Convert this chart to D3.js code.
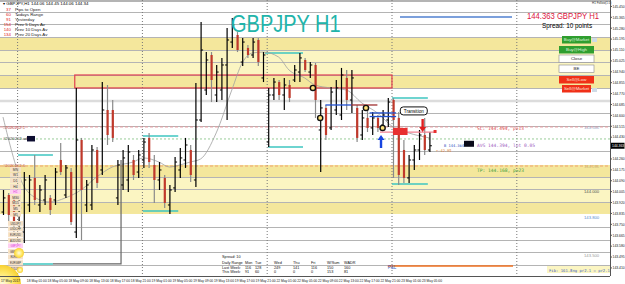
<!DOCTYPE html>
<html>
<head>
<meta charset="utf-8">
<script src="https://cdn.jsdelivr.net/npm/d3@7/dist/d3.min.js"></script>
<style>
  body { margin: 0; background: #fff; }
  svg { display: block; font-family: "Liberation Sans", Arial, sans-serif; }
</style>
</head>
<body>
<div id="chart"></div>
<script>
// GBPJPY H1, 17 May 21:00 .. 23 May 09:00 (2017)
var opens = [143.846, 143.979, 143.940, 143.768, 143.690, 143.901, 144.112, 143.901, 143.940, 143.956,
  143.940, 144.252, 143.979, 144.158, 143.690, 144.408, 143.901, 143.901, 144.330, 144.174,
  144.642, 144.642, 143.956, 144.057, 144.096, 144.252, 144.158, 144.252, 144.424, 144.213,
  144.096, 144.112, 143.901, 144.034, 144.174, 144.252, 144.330, 144.096, 144.564, 144.798,
  145.071, 144.759, 144.798, 144.993, 145.172, 145.227, 145.016, 145.126, 145.071, 145.188,
  144.892, 144.392, 144.759, 144.860, 144.759, 144.837, 144.876, 144.938, 145.032, 144.938,
  144.993, 144.486, 144.658, 144.502, 144.642, 144.603, 144.892, 144.720, 144.658, 144.447,
  144.580, 144.502, 144.580, 144.525, 144.564, 144.720, 144.580, 144.330, 144.112, 144.252,
  144.330, 144.447, 144.330];
var highs = [144.018, 143.995, 143.963, 143.940, 144.158, 144.135, 144.291, 144.057, 144.135, 143.979,
  144.190, 144.385, 144.213, 144.190, 144.814, 144.424, 144.096, 144.369, 144.353, 144.860,
  144.837, 144.720, 144.252, 144.330, 144.369, 144.291, 144.330, 144.424, 144.463, 144.291,
  144.236, 144.135, 144.057, 144.275, 144.346, 144.424, 144.369, 144.853, 145.328, 145.094,
  145.094, 144.993, 145.048, 145.282, 145.360, 145.250, 145.204, 145.149, 145.204, 145.204,
  145.094, 144.814, 144.892, 144.876, 144.892, 144.876, 144.993, 145.087, 145.048, 145.016,
  145.009, 144.720, 144.681, 144.821, 144.876, 144.970, 144.954, 144.954, 144.681, 144.642,
  144.642, 144.626, 144.603, 144.642, 144.736, 144.736, 144.626, 144.408, 144.291, 144.369,
  144.486, 144.580, 144.470];
var lows = [143.823, 143.768, 143.690, 143.722, 143.605, 143.846, 143.901, 143.846, 143.901, 143.823,
  143.901, 144.135, 143.956, 143.745, 143.644, 143.628, 143.846, 143.862, 144.034, 144.135,
  144.369, 144.392, 143.901, 144.018, 144.002, 144.096, 144.112, 144.190, 144.190, 143.917,
  144.018, 143.878, 143.831, 144.002, 144.112, 144.190, 144.080, 144.041, 144.548, 144.759,
  144.704, 144.704, 144.720, 144.564, 145.126, 145.094, 144.985, 145.048, 145.048, 144.985,
  144.860, 144.353, 144.720, 144.720, 144.642, 144.704, 144.860, 144.860, 144.938, 144.892,
  144.580, 144.158, 144.408, 144.486, 144.603, 144.564, 144.642, 144.619, 144.392, 144.408,
  144.470, 144.447, 144.470, 144.486, 144.509, 144.112, 144.057, 144.073, 144.073, 144.174,
  144.252, 144.291, 144.314];
var closes = [143.956, 143.823, 143.745, 143.878, 144.096, 144.096, 143.940, 144.018, 144.096, 143.862,
  144.158, 144.158, 144.190, 143.768, 144.408, 144.018, 144.057, 144.330, 144.073, 144.642,
  144.447, 144.424, 144.213, 144.268, 144.314, 144.135, 144.291, 144.392, 144.236, 144.096,
  144.174, 143.917, 144.018, 144.236, 144.268, 144.369, 144.135, 144.564, 145.110, 145.032,
  144.876, 144.938, 144.993, 145.188, 145.305, 145.110, 145.172, 145.071, 145.172, 145.016,
  145.071, 144.759, 144.860, 144.759, 144.837, 144.736, 144.954, 145.048, 144.954, 144.993,
  144.720, 144.658, 144.447, 144.782, 144.814, 144.915, 144.720, 144.892, 144.424, 144.580,
  144.502, 144.580, 144.502, 144.603, 144.704, 144.564, 144.135, 144.112, 144.252, 144.330,
  144.447, 144.330, 144.363];

// moving average line (bar index, price)
var maIdx = [0, 4, 6, 9, 12, 15, 18, 21, 25, 27, 30, 32, 34, 36, 38, 41, 44, 46, 48, 50, 53, 55, 58, 60, 63, 66, 69, 72, 75, 78, 82];
var maVal = [144.587, 144.049, 143.963, 143.924, 143.956, 144.018, 144.119, 144.197, 144.236, 144.268, 144.236, 144.197,
  144.213, 144.236, 144.260, 144.463, 144.798, 145.009, 145.087, 145.094, 145.055, 144.954, 144.892, 144.837, 144.814,
  144.798, 144.697, 144.619, 144.509, 144.463, 144.424];

var priceTicks = [145.450, 145.365, 145.280, 145.195, 145.110, 145.025, 144.940, 144.855, 144.770, 144.685,
  144.600, 144.515, 144.430, 144.345, 144.260, 144.175, 144.090, 144.005, 143.920, 143.835,
  143.750, 143.665, 143.580, 143.495, 143.410];
var timeIdx = [0, 4, 8, 12, 16, 20, 24, 28, 32, 36, 40, 44, 48, 52, 56, 60, 64, 68, 72, 76, 80];
var timeLabels = ["17 May 2017", "18 May 01:00", "18 May 05:00", "18 May 09:00", "18 May 13:00", "18 May 17:00",
  "18 May 21:00", "19 May 01:00", "19 May 05:00", "19 May 09:00", "19 May 13:00", "19 May 17:00", "19 May 21:00",
  "22 May 01:00", "22 May 05:00", "22 May 09:00", "22 May 13:00", "22 May 17:00", "22 May 21:00",
  "23 May 01:00", "23 May 05:00"];
var daySepIdx = [3, 27, 51, 75, 99];

var gridLevels = [145.406, 145.313, 145.211, 145.110, 145.016, 144.915, 144.814, 144.619, 144.517,
  144.322, 144.119, 144.026, 143.924, 143.729, 143.628, 143.534, 143.433];
var zoneTop = [145.211, 144.213], zoneBottom = [144.814, 143.831];
var zoneDark = [[145.211, 145.110], [144.915, 144.814], [144.213, 144.119], [143.924, 143.831]];
var roundLevels = [144.500, 144.200, 144.000, 143.800, 143.500];
var roundColors = ["#9aa8c8", "#c8b878", "#555", "#5a8ad0", "#9a9a9a"];

// daily high / low markers [from bar, to bar, price]
var dayMarks = [[2.9, 9.6, 144.291], [1.9, 9.6, 143.441], [26.9, 33.7, 144.439], [26.9, 33.7, 143.854],
  [50.4, 57.7, 145.087], [51, 57.7, 144.353], [74.8, 81.7, 144.736], [74.8, 81.7, 144.065]];

var infoRows = [["37", "Pips to Open"], ["60", "Todays Range"], ["91", "Yesterday"],
  ["154", "Prev 5 Days Av"], ["140", "Prev 10 Days Av"], ["134", "Prev 20 Days Av"]];
var rangeHead = ["Mon", "Tue", "Wed", "Thu", "Fri", "W/Sum", "WADR"];
var lastWeek = ["116", "128", "249", "141", "116", "150", "160"];
var thisWeek = ["91", "60", "0", "0", "0", "153", "81"];
var timeframes = ["MN", "W1", "D1", "H4", "H1", "M30", "M15", "M5", "M1"];
var symbols = ["USDJPY", "USDCHF", "EURUSD", "AUDUSD", "GBPJPY", "GBPUSD", "EURJPY", "EURGBP", "AUDJPY"];
var buttons = [["Buy@Market", "#2f9e2f", "#dff5df"], ["Buy@High", "#2f9e2f", "#dff5df"], ["Close", "#fff", "#222"],
  ["BE", "#fff", "#222"], ["Sell@Low", "#f03018", "#ffe0d8"], ["Sell@Market", "#f03018", "#ffe0d8"]];

var sl = 144.494, tp = 144.168, avg = 144.394, bid = 144.364;

var W = 625, H = 284, plotR = 610, plotB = 276;

var svg = d3.select("#chart").append("svg").attr("width", W).attr("height", H);

var x = d3.scaleLinear().domain([0, 117]).range([3, 3 + 5.2 * 117]);
var y = d3.scaleLinear().domain([143.347, 145.5]).range([plotB, 0]);

var plot = svg.append("g");

// yellow zones
zoneTop.forEach(function(t, k) {
  plot.append("rect").attr("x", 0).attr("width", plotR).attr("y", y(t))
    .attr("height", y(zoneBottom[k]) - y(t)).attr("fill", "#fbf5c2");
});
zoneDark.forEach(function(z) {
  plot.append("rect").attr("x", 0).attr("width", plotR).attr("y", y(z[0]))
    .attr("height", y(z[1]) - y(z[0])).attr("fill", "#f4e79c");
});

// gray levels
plot.selectAll(".lvl").data(gridLevels).enter().append("line")
  .attr("x1", 0).attr("x2", plotR)
  .attr("y1", function(d) { return Math.round(y(d)) + 0.5; })
  .attr("y2", function(d) { return Math.round(y(d)) + 0.5; })
  .attr("stroke", "#b4b4b4").attr("stroke-width", 1);
plot.append("line").attr("x1", 0).attr("x2", plotR).attr("y1", y(144.712)).attr("y2", y(144.712))
  .attr("stroke", "#dcdcdc").attr("stroke-width", 2.5);
plot.append("line").attr("x1", 0).attr("x2", plotR).attr("y1", 1).attr("y2", 1)
  .attr("stroke", "#b4b4b4").attr("stroke-width", 2);

// day separators
plot.selectAll(".sep").data(daySepIdx).enter().append("line")
  .attr("x1", function(d) { return x(d) - 1; }).attr("x2", function(d) { return x(d) - 1; })
  .attr("y1", 0).attr("y2", plotB)
  .attr("stroke", "#777").attr("stroke-dasharray", "1,2");

// dashed trade lines
plot.append("line").attr("x1", 0).attr("x2", plotR).attr("y1", y(sl) - 2).attr("y2", y(sl) - 2)
  .attr("stroke", "#e89aa0").attr("stroke-dasharray", "3,2");
plot.append("line").attr("x1", 0).attr("x2", plotR).attr("y1", y(144.416)).attr("y2", y(144.416))
  .attr("stroke", "#98cc98").attr("stroke-dasharray", "2,2");
plot.append("line").attr("x1", 0).attr("x2", plotR).attr("y1", y(144.205)).attr("y2", y(144.205))
  .attr("stroke", "#f0a070").attr("stroke-dasharray", "3,2");

// red resistance box
plot.append("rect").attr("x", x(13.8)).attr("y", y(144.915))
  .attr("width", x(74.8) - x(13.8)).attr("height", y(144.814) - y(144.915))
  .attr("fill", "none").attr("stroke", "#e04050").attr("stroke-width", 1.2);

// daily high/low markers
plot.selectAll(".dm").data(dayMarks).enter().append("line")
  .attr("x1", function(d) { return x(d[0]); }).attr("x2", function(d) { return x(d[1]); })
  .attr("y1", function(d) { return y(d[2]); }).attr("y2", function(d) { return y(d[2]); })
  .attr("stroke", "#3ec6c0").attr("stroke-width", 1.5);
plot.append("path")
  .attr("d", "M" + x(9.6) + "," + y(143.441) + "H" + x(22.7) + "V" + y(144.252))
  .attr("fill", "none").attr("stroke", "#666").attr("stroke-width", 1.2);

// moving average
plot.append("path")
  .datum(maIdx.map(function(d, k) { return [d, maVal[k]]; }))
  .attr("fill", "none").attr("stroke", "#a0a0a0").attr("stroke-width", 0.8)
  .attr("d", d3.line().curve(d3.curveMonotoneX)
    .x(function(d) { return x(d[0]); }).y(function(d) { return y(d[1]); }));

// bars: black up bars with ticks, red bodies for down bars
var bars = plot.selectAll(".bar").data(closes).enter().append("g");
bars.append("line")
  .attr("x1", function(d, i) { return x(i) + 0.5; }).attr("x2", function(d, i) { return x(i) + 0.5; })
  .attr("y1", function(d, i) { return y(highs[i]); }).attr("y2", function(d, i) { return y(lows[i]); })
  .attr("stroke", function(d, i) { return d >= opens[i] ? "#000" : "#8a8a8a"; })
  .attr("stroke-width", 1.2);
bars.each(function(d, i) {
  var g = d3.select(this);
  if (d < opens[i]) {
    g.append("rect").attr("x", x(i) - 0.5).attr("width", 2.2)
      .attr("y", y(opens[i])).attr("height", Math.max(1, y(d) - y(opens[i])))
      .attr("fill", "#c0392b");
  } else {
    g.append("line").attr("x1", x(i) - 1.5).attr("x2", x(i) + 0.5)
      .attr("y1", y(opens[i])).attr("y2", y(opens[i])).attr("stroke", "#000");
    g.append("line").attr("x1", x(i) + 0.5).attr("x2", x(i) + 2.5)
      .attr("y1", y(d)).attr("y2", y(d)).attr("stroke", "#000");
  }
});

// trade objects
plot.append("line").attr("x1", x(62)).attr("x2", x(67)).attr("y1", y(144.681)).attr("y2", y(144.681))
  .attr("stroke", "#2050d0").attr("stroke-width", 1.3);
plot.append("line").attr("x1", x(67)).attr("x2", x(72)).attr("y1", y(144.681)).attr("y2", y(144.681))
  .attr("stroke", "#a03030").attr("stroke-width", 1.3);
[144.619, 144.591].forEach(function(p) {
  plot.append("line").attr("x1", x(70.5)).attr("x2", x(75.6)).attr("y1", y(p)).attr("y2", y(p))
    .attr("stroke", "#2050d0").attr("stroke-width", 1.3);
});
plot.append("line").attr("x1", x(72.5)).attr("x2", x(83)).attr("y1", y(144.470)).attr("y2", y(144.470))
  .attr("stroke", "#f08090").attr("stroke-width", 1.3);
plot.append("rect").attr("x", x(75)).attr("y", y(144.502)).attr("width", x(77.8) - x(75))
  .attr("height", y(144.447) - y(144.502)).attr("fill", "#e83030");
plot.append("rect").attr("x", x(82.8)).attr("y", y(144.486)).attr("width", 3).attr("height", 3)
  .attr("fill", "#e83030");

// arrows
function arrow(cx, tipY, dir, color) {
  var len = 13 * dir;
  plot.append("path")
    .attr("d", "M" + (cx - 1.2) + "," + (tipY + len) + "V" + (tipY + 5 * dir) + "H" + (cx - 3.5) +
      "L" + cx + "," + tipY + "L" + (cx + 3.5) + "," + (tipY + 5 * dir) + "H" + (cx + 1.2) + "V" + (tipY + len) + "Z")
    .attr("fill", color);
}
arrow(x(72.6) + 0.5, y(144.447), 1, "#1845e0");
arrow(x(80.7), y(144.470), -1, "#e02020");

// signal circles
[[59.6, 144.814], [61, 144.580], [69.8, 144.658], [73, 144.502]].forEach(function(c) {
  plot.append("circle").attr("cx", x(c[0])).attr("cy", y(c[1])).attr("r", 2.6)
    .attr("fill", "#ffe27a").attr("stroke", "#111").attr("stroke-width", 1.4);
});

// Transition tag
plot.append("rect").attr("x", x(76.4)).attr("y", y(144.666)).attr("width", 27).attr("height", 8)
  .attr("rx", 3).attr("fill", "#fff").attr("stroke", "#111").attr("stroke-width", 1);
plot.append("text").attr("x", x(76.4) + 13.5).attr("y", y(144.666) + 5.8).attr("text-anchor", "middle")
  .attr("font-size", 4.6).text("Transition");

// blue top line
plot.append("line").attr("x1", 400).attr("x2", 512).attr("y1", 17).attr("y2", 17)
  .attr("stroke", "#5080d0").attr("stroke-width", 1.3);

// trade labels
var tl = plot.append("g").attr("font-family", "DejaVu Sans Mono, monospace").attr("font-size", 4.6);
tl.append("text").attr("x", 477).attr("y", y(sl) + 1).attr("fill", "#e05050").text("SL: 144.494, p=13");
tl.append("text").attr("x", 477).attr("y", y(avg) + 5).attr("fill", "#a060c0").text("AVG 144.394, lot 0.05");
tl.append("text").attr("x", 477).attr("y", y(tp) + 1).attr("fill", "#40a040").text("TP: 144.168, p=23");
tl.append("text").attr("x", 444).attr("y", y(avg) + 5).attr("fill", "#3050c0").attr("font-size", 3.7).text("B 144.364");
tl.append("text").attr("x", 436).attr("y", y(avg) + 10).attr("fill", "#e08030").attr("font-size", 3.7).text("+-42.95");
plot.append("rect").attr("x", 464).attr("y", y(avg) - 1).attr("width", 10).attr("height", 6).attr("fill", "#0a0a1a");

// round number labels
plot.selectAll(".rl").data(roundLevels).enter().append("text")
  .attr("x", 584).attr("y", function(d) { return y(d) + 1; })
  .attr("font-size", 4.2).attr("fill", function(d, k) { return roundColors[k]; })
  .text(function(d) { return d.toFixed(3); });

// bottom orange line
plot.append("line").attr("x1", x(74)).attr("x2", 513).attr("y1", 266).attr("y2", 266)
  .attr("stroke", "#f07020").attr("stroke-width", 1.3);
plot.append("text").attr("x", x(74)).attr("y", 269).attr("font-size", 4.5).attr("fill", "#4060c0").text("P&L");

// fib tag
plot.append("rect").attr("x", 547).attr("y", 266).attr("width", 63).attr("height", 7).attr("fill", "#fbf5c2");
plot.append("text").attr("x", 549).attr("y", 271.5).attr("font-size", 3.9).attr("fill", "#4060c0")
  .attr("font-family", "DejaVu Sans Mono, monospace").text("Fib: 161.8ng pr2.1 = pr2.1");

// left labels
var ll = plot.append("g").attr("font-size", 4.2).attr("fill", "#c05050");
ll.append("text").attr("x", 3).attr("y", y(sl)).text("#2020202.1");
ll.append("text").attr("x", 3).attr("y", y(144.416) + 1).attr("fill", "#404040").text("#2020202.ad");
ll.append("text").attr("x", 3).attr("y", y(144.205) + 1).text("#2020202.6");
plot.append("rect").attr("x", 27).attr("y", y(144.416) - 3).attr("width", 8).attr("height", 5.5).attr("fill", "#0c0c30");

// timeframe / symbol buttons
var tf = plot.append("g").attr("font-size", 3.4);
timeframes.forEach(function(t, k) {
  var yy = 167 + k * 5.6;
  tf.append("rect").attr("x", 10).attr("y", yy).attr("width", 11).attr("height", 4.8)
    .attr("fill", t === "H1" ? "#ffd0f0" : "#f6e2c8");
  tf.append("text").attr("x", 15.5).attr("y", yy + 3.7).attr("text-anchor", "middle")
    .attr("fill", t === "H1" ? "#e040e0" : "#333").text(t);
});
symbols.forEach(function(s, k) {
  var yy = 221 + k * 5.6;
  tf.append("rect").attr("x", 8).attr("y", yy).attr("width", 15).attr("height", 4.8)
    .attr("fill", s === "GBPJPY" ? "#ffd0f0" : "#f6e2c8");
  tf.append("text").attr("x", 15.5).attr("y", yy + 3.7).attr("text-anchor", "middle").attr("font-size", 2.6)
    .attr("fill", s === "GBPJPY" ? "#e040e0" : "#333").text(s);
});

// sun
var grad = svg.append("defs").append("radialGradient").attr("id", "sun");
grad.append("stop").attr("offset", "0%").attr("stop-color", "#fffbe0");
grad.append("stop").attr("offset", "60%").attr("stop-color", "#ffe868");
grad.append("stop").attr("offset", "100%").attr("stop-color", "#f8d030");
plot.append("circle").attr("cx", 2).attr("cy", 284).attr("r", 19).attr("fill", "url(#sun)");
plot.append("circle").attr("cx", 19).attr("cy", 253).attr("r", 5).attr("fill", "url(#sun)");
plot.append("circle").attr("cx", 20).attr("cy", 270).attr("r", 3).attr("fill", "url(#sun)");

// top-left info
var info = svg.append("g").attr("font-size", 4.4);
info.append("text").attr("x", 3).attr("y", 4.5).attr("fill", "#000").text("▾ GBPJPY,H1 144.06 144.45 144.06 144.34");
infoRows.forEach(function(r, k) {
  info.append("text").attr("x", 11).attr("y", 11 + k * 5).attr("text-anchor", "end").attr("fill", "#e02020").text(r[0]);
  info.append("text").attr("x", 15).attr("y", 11 + k * 5).attr("fill", "#222").text(r[1]);
});

// daily range table
var tb = svg.append("g").attr("font-size", 3.8).attr("fill", "#111");
var colX = [245, 255, 274, 293, 311, 327, 344];
tb.append("text").attr("x", 222).attr("y", 258).text("Spread: 10");
tb.append("text").attr("x", 222).attr("y", 263.5).text("Daily Range");
tb.append("text").attr("x", 222).attr("y", 268.5).text("Last Week:");
tb.append("text").attr("x", 222).attr("y", 273).text("This Week:");
rangeHead.forEach(function(h, k) {
  tb.append("text").attr("x", colX[k]).attr("y", 263.5).text(h);
  tb.append("text").attr("x", colX[k]).attr("y", 268.5).text(lastWeek[k]);
  tb.append("text").attr("x", colX[k]).attr("y", 273).text(thisWeek[k]);
});

// title and header
svg.append("text").attr("transform", "translate(231,32) scale(1,1.18)")
  .attr("font-size", 20).attr("fill", "#22b4aa").text("GBPJPY H1");
svg.append("text").attr("transform", "translate(527,18.5) scale(0.8,1)")
  .attr("font-size", 9.6).attr("fill", "#dc143c").text("144.363 GBPJPY H1");
svg.append("text").attr("x", 542).attr("y", 28).attr("font-size", 6.4).attr("fill", "#000").text("Spread: 10 points");
svg.append("text").attr("x", 592).attr("y", 4).attr("font-size", 3).attr("fill", "#333").text("H1 Follow(1.0)");

// order buttons
var btnY = [36, 46, 55, 65, 76, 85];
buttons.forEach(function(b, k) {
  var wide = (k === 0 || k === 5) ? 29 : 35;
  var bx = (k === 0 || k === 5) ? 562 : 559;
  svg.append("rect").attr("x", bx).attr("y", btnY[k]).attr("width", wide).attr("height", 7.5)
    .attr("fill", b[1]).attr("stroke", b[1] === "#fff" ? "#888" : "none").attr("stroke-width", 0.6);
  svg.append("text").attr("x", bx + wide / 2).attr("y", btnY[k] + 5.3).attr("text-anchor", "middle")
    .attr("font-size", 4.4).attr("fill", b[2]).text(b[0]);
});
svg.append("rect").attr("x", 592).attr("y", 38).attr("width", 5).attr("height", 4).attr("fill", "#cfdbe6");
svg.append("rect").attr("x", 592).attr("y", 88).attr("width", 5).attr("height", 4).attr("fill", "#cfdbe6");

// price axis
var lastY = y(closes[82]);
var ax = svg.append("g").attr("transform", "translate(" + plotR + ",0)");
ax.append("line").attr("x1", 0.5).attr("x2", 0.5).attr("y1", 0).attr("y2", plotB).attr("stroke", "#555");
ax.selectAll(".pt").data(priceTicks).enter().append("g")
  .attr("transform", function(d) { return "translate(0," + y(d) + ")"; })
  .each(function(d) {
    var t = d3.select(this);
    t.append("line").attr("x1", 0).attr("x2", 2).attr("stroke", "#555");
    if (Math.abs(y(d) - lastY) > 5) {
      t.append("text").attr("x", 2.5).attr("y", 1.3).attr("font-size", 3.4).attr("fill", "#222").text(d.toFixed(3));
    }
  });
ax.append("rect").attr("x", 1).attr("y", lastY - 3).attr("width", 13.5).attr("height", 6).attr("fill", "#000");
ax.append("text").attr("x", 2).attr("y", lastY + 1.3).attr("font-size", 3.4).attr("fill", "#fff")
  .text(closes[82].toFixed(3));

// time axis
svg.append("line").attr("x1", 0).attr("x2", plotR).attr("y1", plotB + 0.5).attr("y2", plotB + 0.5).attr("stroke", "#555");
svg.selectAll(".tl").data(timeIdx).enter().append("text")
  .attr("x", function(d) { return d === 0 ? 1 : x(d) + 3; })
  .attr("y", 282).attr("font-size", 3.3).attr("fill", "#222")
  .text(function(d, k) { return timeLabels[k]; });
</script>
</body>
</html>
